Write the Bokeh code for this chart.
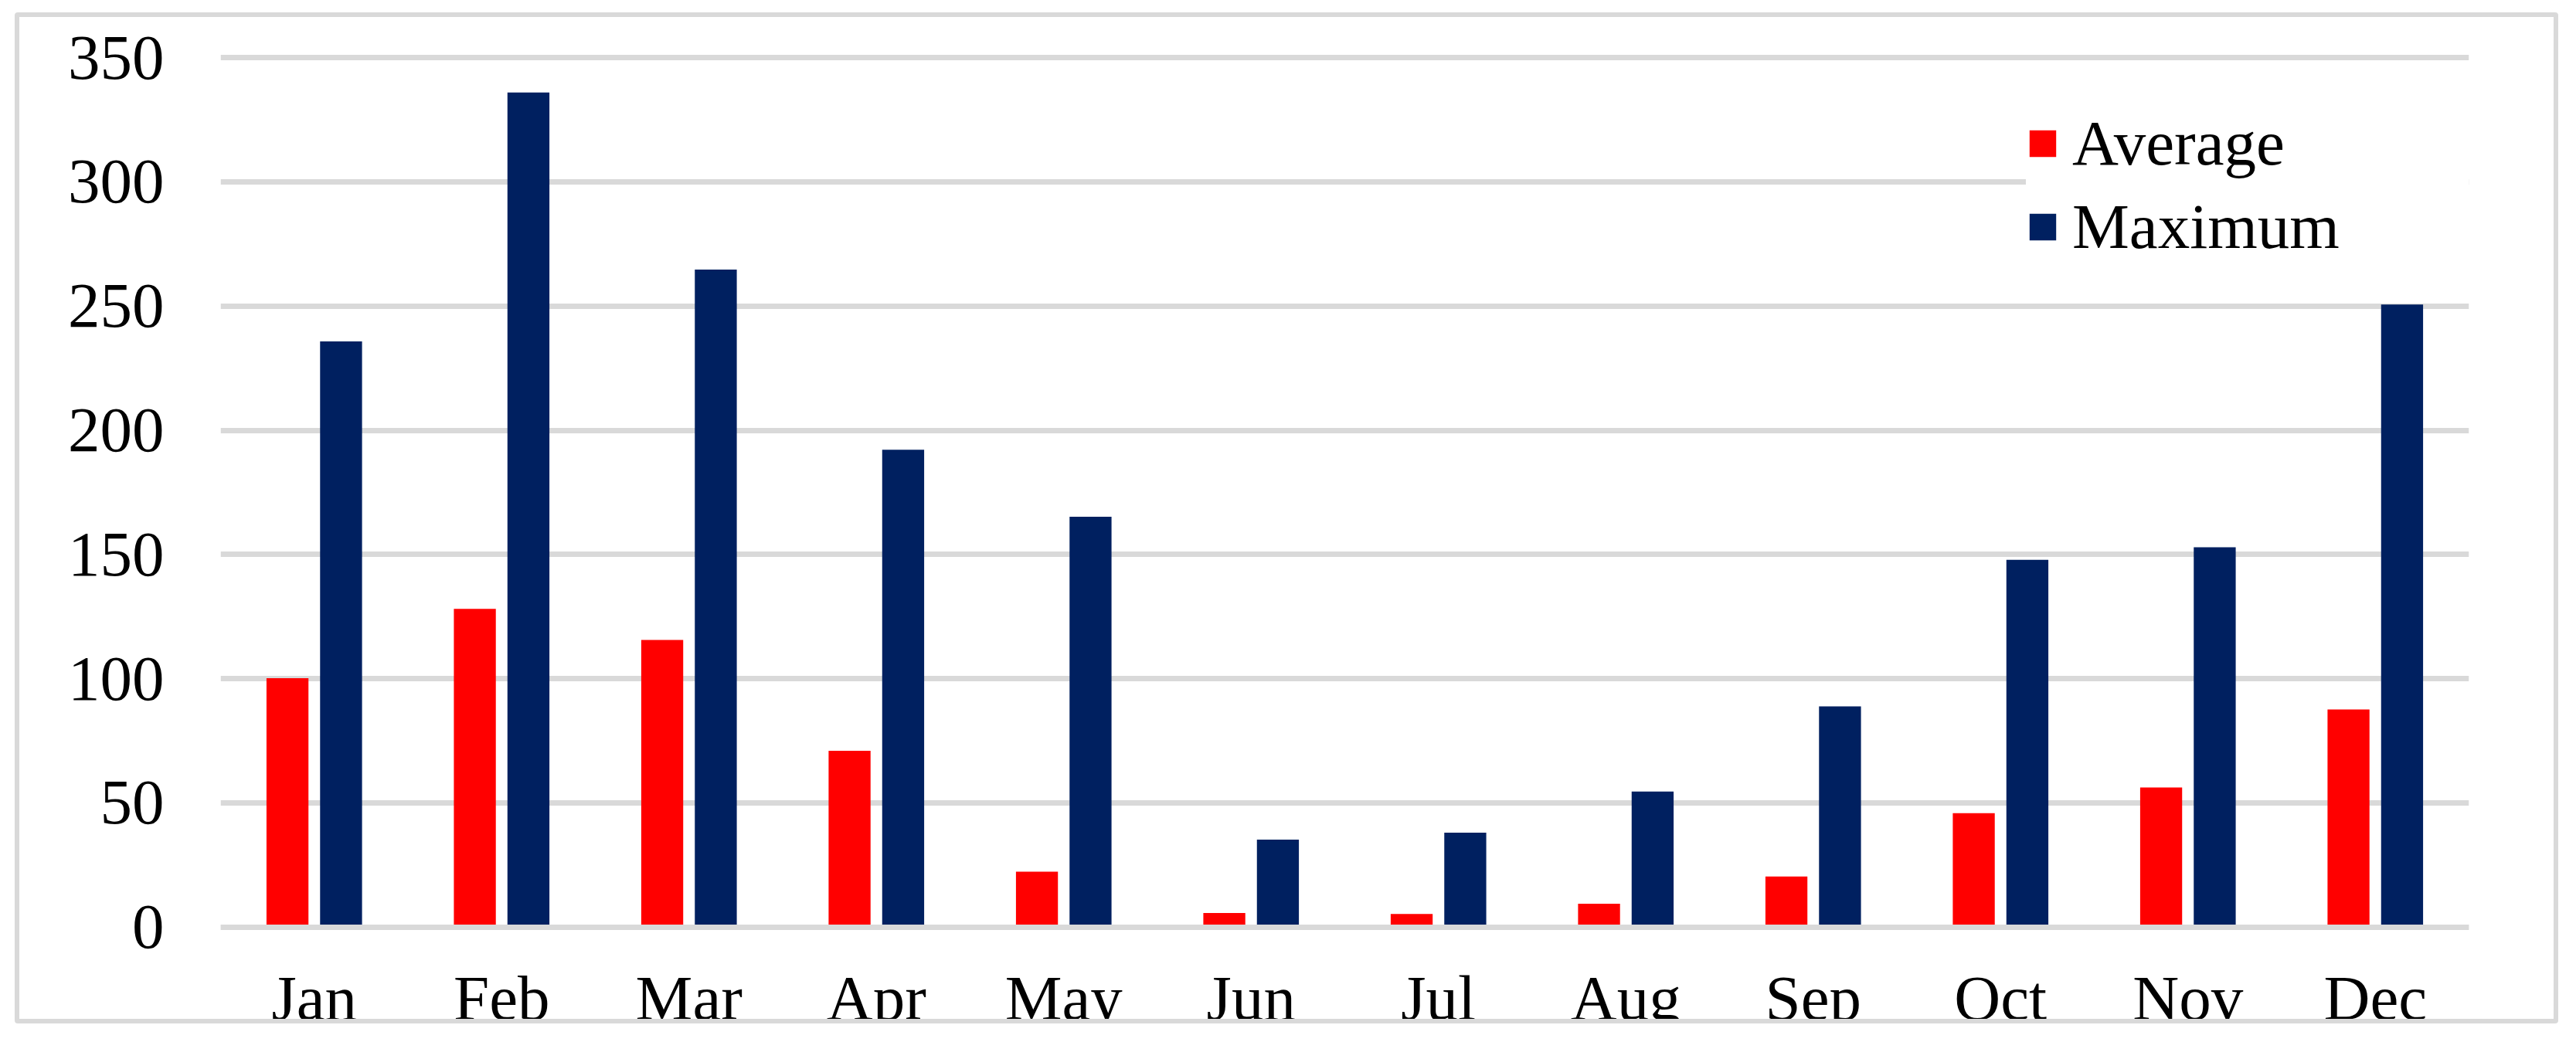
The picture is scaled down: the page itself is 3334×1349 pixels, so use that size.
from bokeh.plotting import figure
from bokeh.models import FactorRange, Range1d, FixedTicker, ColumnDataSource
from bokeh.transform import dodge
from bokeh.embed import file_html
from bokeh.resources import INLINE

# ---- data ----
months = ["Jan", "Feb", "Mar", "Apr", "May", "Jun",
          "Jul", "Aug", "Sep", "Oct", "Nov", "Dec"]
average = [100.2, 128.1, 115.6, 71.0, 22.3, 5.7, 5.3, 9.4, 20.4, 45.9, 56.2, 87.6]
maximum = [235.8, 336.0, 264.7, 192.2, 165.2, 35.2, 38.0, 54.6, 88.9, 147.9, 152.9, 250.6]
y_ticks = [0, 50, 100, 150, 200, 250, 300, 350]
series_names = ["Average", "Maximum"]

RED = "#FF0000"
NAVY = "#002060"
GRID = "#D9D9D9"
FONT = "Liberation Serif"
FS = "83px"

src = ColumnDataSource(dict(month=months, average=average, maximum=maximum))

p = figure(
    x_range=FactorRange(*months, range_padding=0),
    y_range=Range1d(-40.8, 360),
    width=3280, height=1297,
    output_backend="svg", toolbar_location=None,
    min_border_left=260, min_border_right=122,
    min_border_top=20, min_border_bottom=0,
    background_fill_color="white", border_fill_color="white",
)
p.outline_line_color = None
p.styles = {"border": "6px solid #D9D9D9", "border-radius": "4px",
            "box-sizing": "content-box"}
p.margin = (16, 0, 0, 19)

p.vbar(x=dodge("month", -0.143, range=p.x_range), top="average", width=0.224,
       source=src, fill_color=RED, line_color=None, legend_label=series_names[0])
p.vbar(x=dodge("month", 0.143, range=p.x_range), top="maximum", width=0.224,
       source=src, fill_color=NAVY, line_color=None, legend_label=series_names[1])

# y axis + grid
yt = FixedTicker(ticks=y_ticks)
p.yaxis.ticker = yt
p.ygrid.ticker = yt
p.xgrid.grid_line_color = None
p.ygrid.grid_line_color = GRID
p.ygrid.grid_line_width = 7

p.yaxis.axis_line_color = None
p.yaxis.major_tick_line_color = None
p.yaxis.minor_tick_line_color = None
p.yaxis.major_tick_out = 0
p.yaxis.major_tick_in = 0
p.yaxis.minor_tick_out = 0
p.yaxis.major_label_standoff = 73
p.yaxis.major_label_text_font = FONT
p.yaxis.major_label_text_font_size = FS
p.yaxis.major_label_text_color = "black"

# x axis drawn at value 0 inside the frame
p.xaxis.fixed_location = 0
p.xaxis.axis_line_color = GRID
p.xaxis.axis_line_width = 7
p.xaxis.major_tick_line_color = None
p.xaxis.minor_tick_line_color = None
p.xaxis.major_tick_out = 0
p.xaxis.major_tick_in = 0
p.xaxis.major_label_standoff = 46
p.xaxis.major_label_text_font = FONT
p.xaxis.major_label_text_font_size = FS
p.xaxis.major_label_text_color = "black"

# legend
lg = p.legend[0]
lg.location = (2337, 990)
lg.orientation = "vertical"
lg.label_text_font = FONT
lg.label_text_font_size = FS
lg.label_text_color = "black"
lg.glyph_width = 43
lg.glyph_height = 43
lg.label_standoff = 17
lg.label_width = 600
lg.spacing = 12
lg.padding = 48
lg.margin = 0
lg.border_line_color = None
lg.background_fill_color = "white"
lg.background_fill_alpha = 1.0

open("out.html", "w").write(file_html(p, INLINE))
